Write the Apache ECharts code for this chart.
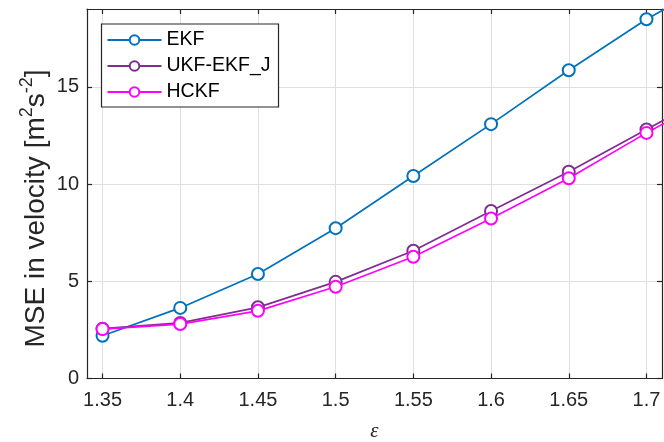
<!DOCTYPE html>
<html>
<head>
<meta charset="utf-8">
<script src="https://cdn.jsdelivr.net/npm/echarts@6/dist/echarts.min.js"></script>
<style>
html,body{margin:0;padding:0;background:#fff;}
#chart{width:664px;height:442px;}
</style>
</head>
<body>
<div id="chart"></div>
<script>
// ---- data ----
const epsilon = [1.35, 1.4, 1.45, 1.5, 1.55, 1.6, 1.65, 1.7, 1.75];
const ekf     = [2.2, 3.63, 5.37, 7.73, 10.41, 13.08, 15.85, 18.47, 20.7];
const ukfEkfJ = [2.56, 2.86, 3.66, 4.97, 6.57, 8.61, 10.63, 12.8, 15.0];
const hckf    = [2.54, 2.8, 3.48, 4.72, 6.26, 8.23, 10.3, 12.63, 14.8];
const xTicks  = [1.35, 1.4, 1.45, 1.5, 1.55, 1.6, 1.65, 1.7];
const yTicks  = [0, 5, 10, 15];
const seriesNames = ['EKF', 'UKF-EKF_J', 'HCKF'];

const FONT = 'Liberation Sans, Arial, sans-serif';
const AX = '#262626';
const pairs = ys => epsilon.map((x, i) => [x, ys[i]]);

const chart = echarts.init(document.getElementById('chart'), null, {renderer: 'canvas'});

function mkSeries(name, ys, color) {
  return {
    name, type: 'line', data: pairs(ys), xAxisIndex: 0, yAxisIndex: 0,
    symbol: 'emptyCircle', symbolSize: 12, clip: true,
    lineStyle: {color, width: 1.7},
    itemStyle: {color, borderColor: color, borderWidth: 1.7},
    emphasis: {disabled: true}, animation: false
  };
}

const xBase = {
  type: 'value', min: 1.34, max: 1.71,
  axisLine: {show: true, onZero: false, lineStyle: {color: AX, width: 1.2}},
  axisTick: {show: true, inside: true, length: 5, customValues: xTicks, lineStyle: {color: AX, width: 1.2}},
};
const yBase = {
  type: 'value', min: 0, max: 19,
  axisLine: {show: true, onZero: false, lineStyle: {color: AX, width: 1.2}},
  axisTick: {show: true, inside: true, length: 5, customValues: yTicks, lineStyle: {color: AX, width: 1.2}},
};

chart.setOption({
  backgroundColor: '#fff',
  animation: false,
  grid: {left: 87, right: 2, top: 9, bottom: 63.5, containLabel: false, outerBoundsMode: 'none'},
  xAxis: [
    Object.assign({}, xBase, {
      position: 'bottom',
      axisLabel: {show: true, customValues: xTicks, margin: 12, color: AX, fontFamily: FONT, fontSize: 20,
        formatter: v => String(+v.toFixed(2))},
      splitLine: {show: true, lineStyle: {color: '#dfdfdf', width: 1}},
      name: 'ε', nameLocation: 'middle', nameGap: 42,
      nameTextStyle: {fontFamily: 'Liberation Serif, Times New Roman, serif', fontStyle: 'italic', fontSize: 21, color: AX}
    }),
    Object.assign({}, xBase, {position: 'top', axisLabel: {show: false}, splitLine: {show: false}})
  ],
  yAxis: [
    Object.assign({}, yBase, {
      position: 'left',
      axisLabel: {show: true, customValues: yTicks, margin: 8, color: AX, fontFamily: FONT, fontSize: 20},
      splitLine: {show: true, lineStyle: {color: '#dfdfdf', width: 1}}
    }),
    Object.assign({}, yBase, {position: 'right', axisLabel: {show: false}, splitLine: {show: false}})
  ],
  legend: {
    show: true, orient: 'vertical', left: 101.5, top: 24,
    data: seriesNames,
    backgroundColor: '#fff', borderColor: AX, borderWidth: 1.2, borderRadius: 0,
    padding: [6, 8, 5, 5],
    itemWidth: 54, itemHeight: 12, itemGap: 6,
    textStyle: {fontFamily: FONT, fontSize: 19.5, color: '#000', lineHeight: 20},
    selectedMode: false
  },
  graphic: [{
    type: 'text', x: 35, y: 208.5, rotation: Math.PI / 2,
    style: {
      text: '{n|MSE in velocity [m}{s|2}{n|s}{s|-2}{n|]}',
      align: 'center', verticalAlign: 'middle',
      rich: {
        n: {fontFamily: FONT, fontSize: 28, fill: AX, lineHeight: 31, verticalAlign: 'bottom'},
        s: {fontFamily: FONT, fontSize: 18, fill: AX, lineHeight: 18, padding: [0, 0, 14, 0], verticalAlign: 'bottom'}
      }
    }
  }],
  series: [
    mkSeries(seriesNames[0], ekf, '#0072BD'),
    mkSeries(seriesNames[1], ukfEkfJ, '#7E2F8E'),
    mkSeries(seriesNames[2], hckf, '#FF00FF')
  ]
});
</script>
</body>
</html>
